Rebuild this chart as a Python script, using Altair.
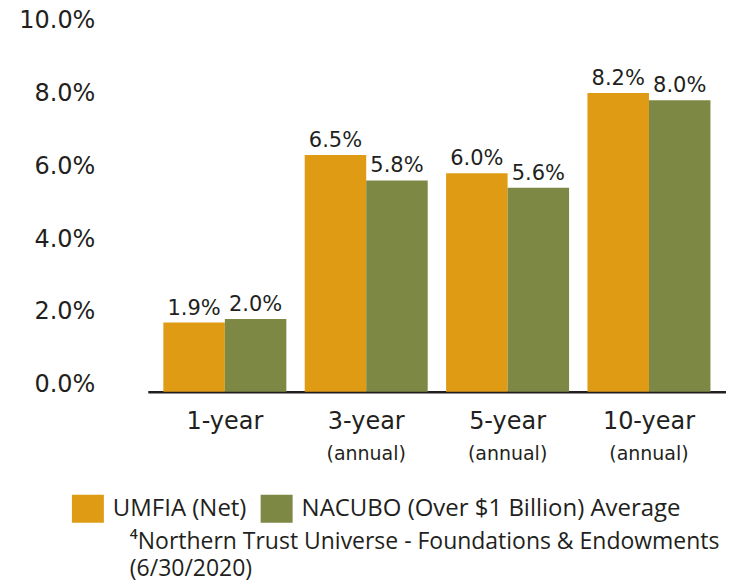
import altair as alt
import pandas as pd

periods = ["1-year", "3-year", "5-year", "10-year"]
period_notes = ["", "(annual)", "(annual)", "(annual)"]
series_names = ["UMFIA (Net)", "NACUBO (Over $1 Billion) Average"]
umfia = [1.9, 6.5, 6.0, 8.2]
nacubo = [2.0, 5.8, 5.6, 8.0]
y_ticks = [0, 2, 4, 6, 8, 10]
colors = ["#DF9B13", "#7E8845"]
footnote = "\u2074Northern Trust Universe - Foundations & Endowments\n (6/30/2020)"

rows = []
for p, u, n in zip(periods, umfia, nacubo):
    rows.append({"period": p, "series": series_names[0], "value": u, "label": f"{u:.1f}%"})
    rows.append({"period": p, "series": series_names[1], "value": n, "label": f"{n:.1f}%"})
df = pd.DataFrame(rows)
notes = pd.DataFrame({"period": periods, "note": period_notes, "pos": [-1.7] * 4})
foot = pd.DataFrame({"text": [footnote]})

TXT = "#231F20"
NUMFONT = "DejaVu Sans"
SANS = "Open Sans"

x_enc = alt.X("period:N", sort=periods, title=None,
              scale=alt.Scale(paddingInner=0.13, paddingOuter=0.11),
              axis=alt.Axis(labelAngle=0, ticks=False, domainColor=TXT, domainWidth=2.5,
                            labelFontSize=24, labelFont=NUMFONT, labelColor=TXT,
                            labelPadding=18, labelFontWeight="normal"))
y_scale = alt.Scale(domain=[0, 10], nice=False)

bars = alt.Chart(df).mark_bar().encode(
    x=x_enc,
    xOffset=alt.XOffset("series:N", sort=series_names),
    y=alt.Y("value:Q", scale=y_scale, title=None,
            axis=alt.Axis(values=y_ticks, labelExpr="format(datum.value, '.1f') + '%'",
                          domain=False, ticks=False, grid=False, labelFontSize=24,
                          labelFont=NUMFONT, labelColor=TXT, labelPadding=53,
                          labelBaseline="alphabetic")),
    color=alt.Color("series:N", sort=series_names,
                    scale=alt.Scale(domain=series_names, range=colors),
                    legend=alt.Legend(title=None, orient="none", legendX=-76, legendY=466,
                                      direction="horizontal",
                                      symbolType="M-1,-0.875H1V0.875H-1Z",
                                      symbolSize=1024, symbolStrokeWidth=0, symbolOpacity=1,
                                      labelFont=SANS, labelFontSize=24, labelColor=TXT,
                                      labelOffset=9, columnPadding=14, padding=0,
                                      labelLimit=600)),
)

values = alt.Chart(df).mark_text(baseline="alphabetic", dy=-8, font=NUMFONT,
                                 fontSize=21, color=TXT).encode(
    x=alt.X("period:N", sort=periods),
    xOffset=alt.XOffset("series:N", sort=series_names),
    y=alt.Y("value:Q", scale=y_scale),
    text="label:N",
)

note_text = alt.Chart(notes).mark_text(baseline="middle", font=NUMFONT, fontSize=19,
                                       color=TXT).encode(
    x=alt.X("period:N", sort=periods),
    y=alt.Y("pos:Q", scale=y_scale),
    text="note:N",
)

foot_text = alt.Chart(foot).mark_text(align="left", baseline="top", lineBreak="\n",
                                      lineHeight=27, font=SANS, fontSize=23,
                                      color=TXT).encode(
    x=alt.value(-18),
    y=alt.datum(-3.82, scale=y_scale),
    text="text:N",
)

chart = alt.layer(bars, values, note_text, foot_text).properties(
    width=579, height=365,
    padding={"left": 140, "top": 19, "right": 0, "bottom": 190},
    autosize=alt.AutoSizeParams(type="none"),
).configure_view(stroke=None)

chart.save("out.html", embed_options={"renderer": "svg", "actions": False})
